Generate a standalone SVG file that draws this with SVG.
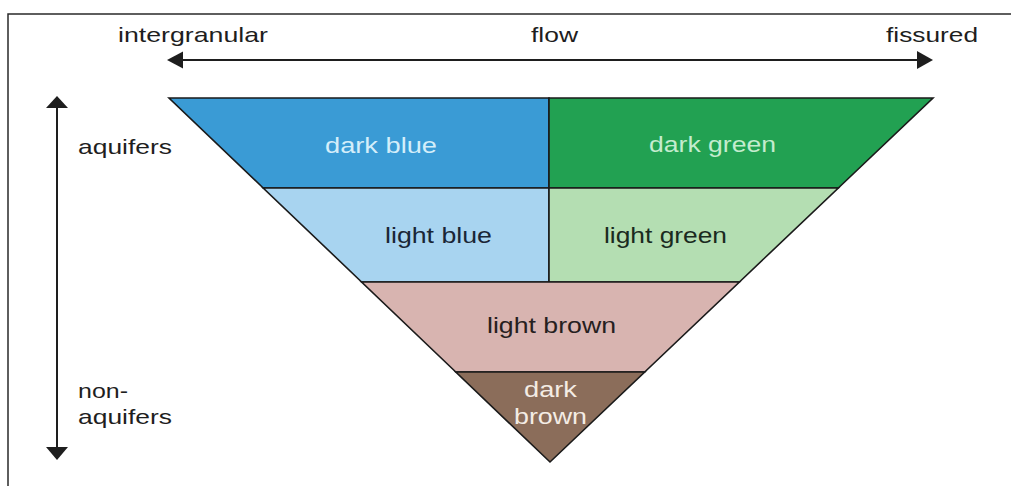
<svg xmlns="http://www.w3.org/2000/svg" width="1011" height="486" viewBox="0 0 1011 486">
<style>
  .t { font-family: "Liberation Sans", Arial, sans-serif; font-size: 21px; fill: #1e1e1e; }
  .b { font-family: "Liberation Sans", Arial, sans-serif; font-size: 22.5px; }
  .seg { stroke: #1a1a1a; stroke-width: 1.6; stroke-linejoin: miter; }
  .ln { stroke: #1e1e1e; stroke-width: 2; fill: none; }
  .ah { fill: #1e1e1e; }
  .frame { stroke: #2a2a2a; stroke-width: 1.5; fill: none; }
</style>
<rect x="0" y="0" width="1011" height="486" fill="#ffffff"/>
<g id="frame">
  <path class="frame" d="M8,486 L8,14 L1011,14"/>
</g>
<g id="connectors">
  <line class="ln" x1="180" y1="60" x2="920" y2="60"/>
  <polygon class="ah" points="167,60 183,51.5 183,68.5"/>
  <polygon class="ah" points="933,60 917,51 917,69"/>
  <line class="ln" x1="57" y1="106" x2="57" y2="450"/>
  <polygon class="ah" points="57,96 46,108 68,108"/>
  <polygon class="ah" points="57,460 46,447 68,447"/>
</g>
<g id="axis-labels">
  <text class="t" x="118" y="42" textLength="150" lengthAdjust="spacingAndGlyphs">intergranular</text>
  <text class="t" x="531" y="42" textLength="47" lengthAdjust="spacingAndGlyphs">flow</text>
  <text class="t" x="886" y="42" textLength="92" lengthAdjust="spacingAndGlyphs">fissured</text>
  <text class="t" x="78" y="154" textLength="94" lengthAdjust="spacingAndGlyphs">aquifers</text>
  <text class="t" x="78" y="398" textLength="50" lengthAdjust="spacingAndGlyphs">non-</text>
  <text class="t" x="78" y="424" textLength="94" lengthAdjust="spacingAndGlyphs">aquifers</text>
</g>
<g id="dark-blue">
  <polygon class="seg" fill="#3a9bd5" points="169,98 549,98 549,188 263.2,188"/>
  <text class="b" fill="#d4eefa" x="325" y="153" textLength="112" lengthAdjust="spacingAndGlyphs">dark blue</text>
</g>
<g id="dark-green">
  <polygon class="seg" fill="#22a152" points="549,98 933,98 838.3,188 549,188"/>
  <text class="b" fill="#c4ecce" x="649" y="152" textLength="127" lengthAdjust="spacingAndGlyphs">dark green</text>
</g>
<g id="light-blue">
  <polygon class="seg" fill="#a8d4f0" points="263.2,188 549,188 549,282 361.6,282"/>
  <text class="b" fill="#1a2636" x="385" y="243" textLength="107" lengthAdjust="spacingAndGlyphs">light blue</text>
</g>
<g id="light-green">
  <polygon class="seg" fill="#b4deb2" points="549,188 838.3,188 739.4,282 549,282"/>
  <text class="b" fill="#1a2a1e" x="604" y="243" textLength="123" lengthAdjust="spacingAndGlyphs">light green</text>
</g>
<g id="light-brown">
  <polygon class="seg" fill="#d8b4b0" points="361.6,282 739.4,282 644.7,372 455.8,372"/>
  <text class="b" fill="#262020" x="487" y="333" textLength="129" lengthAdjust="spacingAndGlyphs">light brown</text>
</g>
<g id="dark-brown">
  <polygon class="seg" fill="#8b6d5a" points="455.8,372 644.7,372 550,462"/>
  <text class="b" fill="#f4ece4" x="524" y="397" textLength="53" lengthAdjust="spacingAndGlyphs">dark</text>
  <text class="b" fill="#f4ece4" x="514" y="424" textLength="73" lengthAdjust="spacingAndGlyphs">brown</text>
</g>
</svg>
